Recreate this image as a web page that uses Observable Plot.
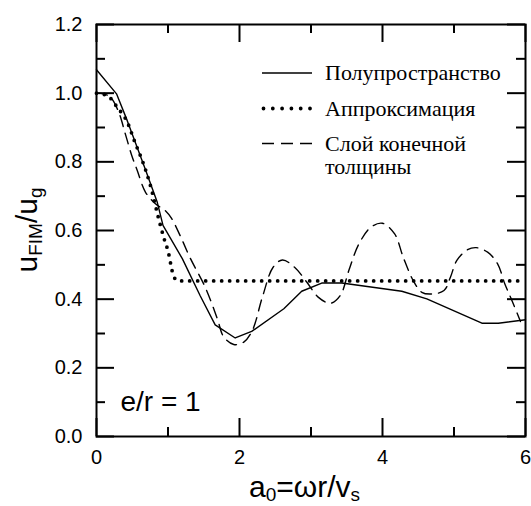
<!DOCTYPE html>
<html><head><meta charset="utf-8">
<script src="https://cdn.jsdelivr.net/npm/d3@7"></script>
<script src="https://cdn.jsdelivr.net/npm/@observablehq/plot@0.6"></script>
<style>body{margin:0;background:#fff} svg{display:block}</style>
</head><body><div id="chart"></div>
<script>
// Полупространство (solid)
const halfX = [0, 0.28, 0.43, 0.68, 0.85, 0.93, 1.2, 1.45, 1.66, 1.94, 2.17, 2.62, 2.87, 3.15, 3.43, 4.27, 4.62, 5.39, 5.62, 6.0];
const halfY = [1.068, 0.998, 0.92, 0.78, 0.682, 0.615, 0.518, 0.41, 0.325, 0.287, 0.306, 0.372, 0.423, 0.447, 0.447, 0.423, 0.401, 0.33, 0.33, 0.34];
// Аппроксимация (dotted)
const apprX = [0, 0.15, 0.29, 0.43, 0.545, 0.64, 0.754, 0.87, 0.94, 1.01, 1.05, 1.08, 1.15, 6.0];
const apprY = [1.0, 0.993, 0.959, 0.916, 0.853, 0.804, 0.731, 0.634, 0.58, 0.532, 0.49, 0.465, 0.453, 0.453];
// Слой конечной толщины (dashed)
const layerX = [0, 0.1, 0.196, 0.31, 0.405, 0.5, 0.57, 0.684, 0.824, 0.96, 1.05, 1.17, 1.31, 1.52, 1.69, 1.78, 1.92, 2.06, 2.18, 2.32, 2.47, 2.6, 2.77, 2.94, 3.1, 3.27, 3.41, 3.53, 3.67, 3.84, 4.0, 4.17, 4.29, 4.43, 4.55, 4.68, 4.86, 4.95, 5.04, 5.19, 5.31, 5.47, 5.61, 5.71, 5.8, 5.93];
const layerY = [1.0, 0.998, 0.988, 0.945, 0.88, 0.814, 0.775, 0.712, 0.678, 0.658, 0.635, 0.585, 0.52, 0.435, 0.343, 0.29, 0.268, 0.275, 0.309, 0.406, 0.493, 0.514, 0.493, 0.45, 0.406, 0.388, 0.411, 0.484, 0.561, 0.61, 0.621, 0.59, 0.522, 0.454, 0.42, 0.415, 0.425, 0.464, 0.513, 0.544, 0.55, 0.537, 0.503, 0.445, 0.401, 0.335];

const seriesNames = ["Полупространство", "Аппроксимация", ["Слой конечной", "толщины"]];
const annotation = "e/r = 1";
const xMajor = [0, 2, 4, 6];
const xMinor = [1, 3, 5];
const yMajor = [0, 0.2, 0.4, 0.6, 0.8, 1.0, 1.2];
const yMinor = [0.1, 0.3, 0.5, 0.7, 0.9, 1.1];

const rows = (xs, ys) => xs.map((x, i) => ({x, y: ys[i]}));
const sans = "'Liberation Sans', Arial, sans-serif";
const serif = "'Liberation Serif', 'Times New Roman', serif";

const W = 531, H = 506, mL = 96, mR = 6, mT = 24, mB = 70;
const fw = W - mL - mR, fh = H - mT - mB;
const tickStyle = {stroke: "#000", strokeWidth: 2};

const chart = Plot.plot({
  width: W, height: H,
  marginLeft: mL, marginRight: mR, marginTop: mT, marginBottom: mB,
  style: {fontFamily: sans, fontSize: "20px", color: "#000", background: "#fff"},
  x: {domain: [0, 6]},
  y: {domain: [0, 1.2]},
  marks: [
    Plot.axisX(xMajor, {tickSize: 0, tickPadding: 13, fontSize: 20, tickFormat: d => String(d), label: null}),
    Plot.axisY(yMajor, {tickSize: 0, tickPadding: 14, fontSize: 20, tickFormat: d => d.toFixed(1), label: null}),
    // inward ticks, bottom and top
    Plot.tickX(xMajor, {x: d => d, insetTop: fh - 18, ...tickStyle}),
    Plot.tickX(xMinor, {x: d => d, insetTop: fh - 9, ...tickStyle}),
    Plot.tickX(xMajor, {x: d => d, insetBottom: fh - 18, ...tickStyle}),
    Plot.tickX(xMinor, {x: d => d, insetBottom: fh - 9, ...tickStyle}),
    // inward ticks, left and right
    Plot.tickY(yMajor, {y: d => d, insetRight: fw - 18, ...tickStyle}),
    Plot.tickY(yMinor, {y: d => d, insetRight: fw - 9, ...tickStyle}),
    Plot.tickY(yMajor, {y: d => d, insetLeft: fw - 18, ...tickStyle}),
    Plot.tickY(yMinor, {y: d => d, insetLeft: fw - 9, ...tickStyle}),
    Plot.line(rows(apprX, apprY), {x: "x", y: "y", curve: "monotone-x", stroke: "#000", strokeWidth: 3.8, strokeLinecap: "round", strokeDasharray: "0,8"}),
    Plot.line(rows(layerX, layerY), {x: "x", y: "y", curve: "catmull-rom", stroke: "#000", strokeWidth: 1.4, strokeDasharray: "11,7"}),
    Plot.line(rows(halfX, halfY), {x: "x", y: "y", curve: "linear", stroke: "#000", strokeWidth: 1.4}),
    Plot.text([annotation], {frameAnchor: "bottom-left", dx: 24, dy: -26, lineAnchor: "bottom", textAnchor: "start", fontSize: 28, fill: "#000"}),
    Plot.frame({stroke: "#000", strokeWidth: 2})
  ]
});

const svg = d3.select(chart);
const [x0, x1] = chart.scale("x").range;
const [yb, yt] = chart.scale("y").range;

// x axis title with subscripts
const xt = svg.append("text")
  .attr("x", (x0 + x1) / 2 - 6).attr("y", yb + 61)
  .attr("text-anchor", "middle").attr("font-family", sans).attr("font-size", 30).attr("fill", "#000");
xt.append("tspan").text("a");
xt.append("tspan").attr("font-size", 19).attr("dy", 4).text("0");
xt.append("tspan").attr("dy", -4).text("=ωr/v");
xt.append("tspan").attr("font-size", 19).attr("dy", 4).text("s");

// y axis title with subscripts
const yt2 = svg.append("text")
  .attr("transform", `translate(${x0 - 59},${(yb + yt) / 2}) rotate(-90)`)
  .attr("text-anchor", "middle").attr("font-family", sans).attr("font-size", 30).attr("fill", "#000");
yt2.append("tspan").text("u");
yt2.append("tspan").attr("font-size", 19).attr("dy", 5).text("FIM");
yt2.append("tspan").attr("dy", -5).text("/u");
yt2.append("tspan").attr("font-size", 19).attr("dy", 5).text("g");

// legend
const lx0 = x0 + 166, lx1 = x0 + 216, tx = x0 + 229;
const legendRows = [
  {y: yt + 49, dash: null, width: 1.4, cap: "butt", name: seriesNames[0], base: yt + 56},
  {y: yt + 84.5, dash: "0,9.3", width: 3.8, cap: "round", name: seriesNames[1], base: yt + 92},
  {y: yt + 119.5, dash: "12,7", width: 1.4, cap: "butt", name: seriesNames[2], base: yt + 127}
];
const lg = svg.append("g").attr("text-anchor", "start");
legendRows.forEach(r => {
  lg.append("line").attr("x1", lx0 + (r.cap === "round" ? 1.5 : 0)).attr("x2", lx1).attr("y1", r.y).attr("y2", r.y)
    .attr("stroke", "#000").attr("stroke-width", r.width).attr("stroke-linecap", r.cap)
    .attr("stroke-dasharray", r.dash);
  const names = Array.isArray(r.name) ? r.name : [r.name];
  const t = lg.append("text").attr("x", tx).attr("y", r.base).attr("text-anchor", "start")
    .attr("font-family", serif).attr("font-size", 22).attr("fill", "#000");
  names.forEach((n, i) => t.append("tspan").attr("x", tx).attr("dy", i ? 22.5 : 0).text(n));
});

document.getElementById("chart").appendChild(chart);
</script>
</body></html>
